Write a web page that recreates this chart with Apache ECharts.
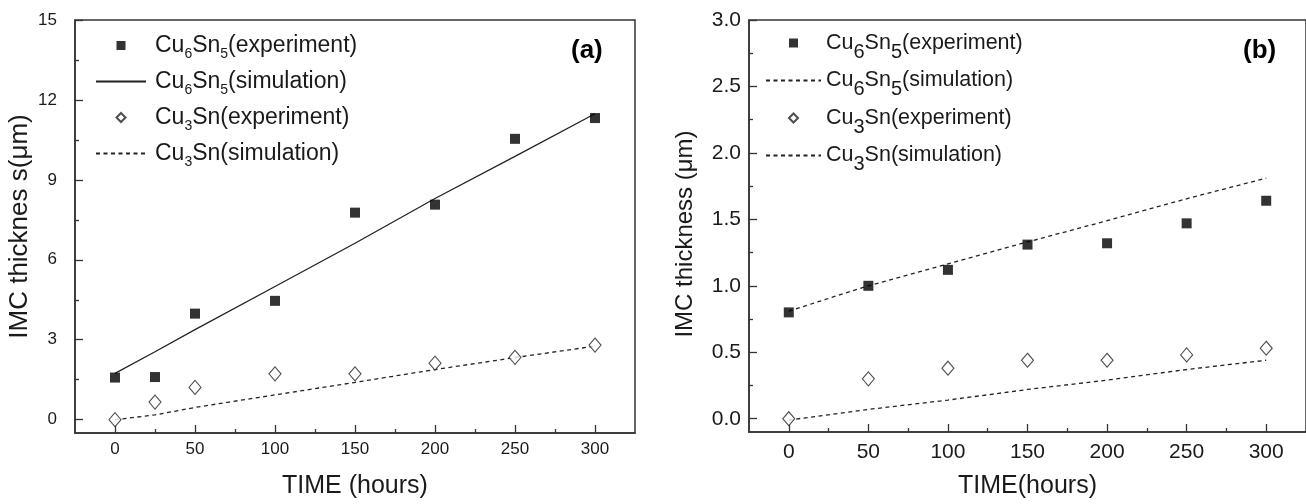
<!DOCTYPE html>
<html><head><meta charset="utf-8">
<script src="https://cdn.jsdelivr.net/npm/echarts@6/dist/echarts.min.js"></script>
<style>html,body{margin:0;padding:0;background:#fff}#c{width:1306px;height:504px}</style>
</head><body><div id="c"></div>
<script>
// ---------- data: panel (a) ----------
const timesA = [0, 25, 50, 100, 150, 200, 250, 300];
const cu6sn5ExpA = [1.58, 1.6, 3.98, 4.46, 7.77, 8.07, 10.54, 11.32];
const cu6sn5SimA = [1.74, 2.55, 3.38, 5.0, 6.62, 8.3, 9.88, 11.48];
const cu3snExpA = [0, 0.66, 1.21, 1.72, 1.72, 2.12, 2.34, 2.8];
const cu3snSimA = [0.0, 0.18, 0.46, 0.93, 1.4, 1.88, 2.33, 2.76];
// ---------- data: panel (b) ----------
const timesB = [0, 50, 100, 150, 200, 250, 300];
const cu6sn5ExpB = [0.80, 1.00, 1.12, 1.31, 1.32, 1.47, 1.64];
const cu6sn5SimB = [0.81, 1.0, 1.165, 1.33, 1.49, 1.655, 1.81];
const cu3snExpB = [0, 0.30, 0.38, 0.44, 0.44, 0.48, 0.53];
const cu3snSimB = [-0.01, 0.07, 0.14, 0.22, 0.29, 0.37, 0.44];
// ---------- ticks ----------
const xTicks = [0, 50, 100, 150, 200, 250, 300];
const xMinorTicks = [25, 75, 125, 175, 225, 275];
const yTicksA = [0, 3, 6, 9, 12, 15];
const yMinorTicksA = [1.5, 4.5, 7.5, 10.5, 13.5];
const yTicksB = [0, 0.5, 1, 1.5, 2, 2.5, 3];
const yMinorTicksB = [0.25, 0.75, 1.25, 1.75, 2.25, 2.75];
// ---------- labels ----------
const seriesNames = ['Cu6Sn5(experiment)', 'Cu6Sn5(simulation)', 'Cu3Sn(experiment)', 'Cu3Sn(simulation)'];
const xTitleA = 'TIME (hours)';
const yTitleA = 'IMC thicknes s(\u03bcm)';
const xTitleB = 'TIME(hours)';
const yTitleB = 'IMC thickness (\u03bcm)';

const FONT = '"Liberation Sans", Arial, sans-serif';
const INK = '#1a1a1a';
const pairs = (xs, ys) => xs.map((x, i) => [x, ys[i]]);
const tagA = n => n + ' [a]';
const tagB = n => n + ' [b]';
function richName(name) {
  const base = name.replace(/ \[[ab]\]$/, '');
  const parts = base.split(/(\d)/).filter(s => s.length);
  return parts.map(p => /^\d$/.test(p) ? '{s|' + p + '}' : '{n|' + p + '}').join('');
}
const SQUARE_ICON = 'path://M0,0L10,0L10,10L0,10Z';
const DIAMOND_ICON = 'path://M5,0L10,5L5,10L0,5Z';
function legendData(tag) {
  return [
    { name: tag(seriesNames[0]), icon: SQUARE_ICON },
    { name: tag(seriesNames[1]), itemStyle: { opacity: 0 } },
    { name: tag(seriesNames[2]), icon: DIAMOND_ICON },
    { name: tag(seriesNames[3]), itemStyle: { opacity: 0 } }
  ];
}

function axesFor(gi, xmin, xmax, ymin, ymax, yTicks, yMinor, opts) {
  const common = {
    gridIndex: gi, type: 'value', splitLine: { show: false },
    axisLine: { onZero: false, lineStyle: { color: '#333', width: 1.5 } }
  };
  const xs = [
    Object.assign({}, common, {
      min: xmin, max: xmax, position: 'bottom',
      axisTick: { inside: true, length: 8, customValues: xTicks, lineStyle: { color: '#333', width: 1.3 } },
      axisLabel: { customValues: xTicks, margin: opts.xLabelMargin, fontSize: opts.tickFont, color: INK, fontFamily: FONT },
      name: opts.xTitle, nameLocation: 'middle', nameGap: opts.xGap,
      nameTextStyle: { fontSize: opts.titleFont, color: INK, fontFamily: FONT }
    }),
    Object.assign({}, common, {
      min: xmin, max: xmax, position: 'bottom',
      axisLine: { show: false, onZero: false },
      axisTick: { inside: true, length: 4, customValues: xMinorTicks, lineStyle: { color: '#333', width: 1.3 } },
      axisLabel: { show: false }
    })
  ];
  const ys = [
    Object.assign({}, common, {
      min: ymin, max: ymax, position: 'left',
      axisTick: { inside: true, length: 8, customValues: yTicks, lineStyle: { color: '#333', width: 1.3 } },
      axisLabel: { customValues: yTicks, margin: opts.yLabelMargin, fontSize: opts.tickFont, color: INK, fontFamily: FONT,
        formatter: opts.yFmt },
      name: opts.yTitle, nameLocation: 'middle', nameGap: opts.yGap, nameRotate: 90,
      nameTextStyle: { fontSize: opts.yTitleFont, color: INK, fontFamily: FONT, padding: opts.yTitlePad }
    }),
    Object.assign({}, common, {
      min: ymin, max: ymax, position: 'left',
      axisLine: { show: false, onZero: false },
      axisTick: { inside: true, length: 4, customValues: yMinor, lineStyle: { color: '#333', width: 1.3 } },
      axisLabel: { show: false }
    })
  ];
  return { xs, ys };
}

const axA = axesFor(0, -25, 325, -0.5, 15, yTicksA, yMinorTicksA, {
  tickFont: 17, titleFont: 25, yTitleFont: 26, xTitle: xTitleA, yTitle: yTitleA, xGap: 41, yGap: 42,
  xLabelMargin: 8, yLabelMargin: 18, yFmt: v => String(v), yTitlePad: [0, 0, 0, 0]
});
const axB = axesFor(1, -25, 325, -0.1, 3.0, yTicksB, yMinorTicksB, {
  tickFont: 21, titleFont: 25, yTitleFont: 24, xTitle: xTitleB, yTitle: yTitleB, xGap: 42, yGap: 52,
  xLabelMargin: 10, yLabelMargin: 8, yFmt: v => v.toFixed(1), yTitlePad: [0, 16, 0, 0]
});

const squareStyle = { color: '#000' };
const diamondStyle = { color: '#fff', borderColor: '#222', borderWidth: 1.1 };
const dash = [4, 3.5];

const series = [
  { name: tagA(seriesNames[0]), type: 'scatter', xAxisIndex: 0, yAxisIndex: 0, symbol: 'rect', symbolSize: 10,
    itemStyle: squareStyle, data: pairs(timesA, cu6sn5ExpA), z: 5 },
  { name: tagA(seriesNames[1]), type: 'line', xAxisIndex: 0, yAxisIndex: 0, symbol: 'none',
    lineStyle: { color: '#222', width: 1.3 }, itemStyle: { color: '#222' }, data: pairs(timesA, cu6sn5SimA) },
  { name: tagA(seriesNames[2]), type: 'scatter', xAxisIndex: 0, yAxisIndex: 0, symbol: 'diamond', symbolSize: [12, 14],
    itemStyle: diamondStyle, data: pairs(timesA, cu3snExpA), z: 5 },
  { name: tagA(seriesNames[3]), type: 'line', xAxisIndex: 0, yAxisIndex: 0, symbol: 'none',
    lineStyle: { color: '#222', width: 1.3, type: dash }, itemStyle: { color: '#222' }, data: pairs(timesA, cu3snSimA) },

  { name: tagB(seriesNames[0]), type: 'scatter', xAxisIndex: 2, yAxisIndex: 2, symbol: 'rect', symbolSize: 10,
    itemStyle: squareStyle, data: pairs(timesB, cu6sn5ExpB), z: 5 },
  { name: tagB(seriesNames[1]), type: 'line', xAxisIndex: 2, yAxisIndex: 2, symbol: 'none',
    lineStyle: { color: '#222', width: 1.3, type: dash }, itemStyle: { color: '#222' }, data: pairs(timesB, cu6sn5SimB) },
  { name: tagB(seriesNames[2]), type: 'scatter', xAxisIndex: 2, yAxisIndex: 2, symbol: 'diamond', symbolSize: [12, 14],
    itemStyle: diamondStyle, data: pairs(timesB, cu3snExpB), z: 5 },
  { name: tagB(seriesNames[3]), type: 'line', xAxisIndex: 2, yAxisIndex: 2, symbol: 'none',
    lineStyle: { color: '#222', width: 1.3, type: dash }, itemStyle: { color: '#222' }, data: pairs(timesB, cu3snSimB) }
];

const chart = echarts.init(document.getElementById('c'), null, { renderer: 'canvas' });
chart.setOption({
  animation: false,
  backgroundColor: '#fff',
  textStyle: { fontFamily: FONT },
  grid: [
    { left: 75, top: 20, width: 560, height: 415, show: true, borderColor: '#333', borderWidth: 1.5, backgroundColor: 'transparent' },
    { left: 749, top: 20, width: 561, height: 415, show: true, borderColor: '#333', borderWidth: 1.5, backgroundColor: 'transparent' }
  ],
  xAxis: axA.xs.concat(axB.xs),
  yAxis: axA.ys.concat(axB.ys),
  legend: [
    { data: legendData(tagA), orient: 'vertical', left: 90, top: 29, itemWidth: 50, itemHeight: 9, itemGap: 8.5,
      selectedMode: false, formatter: richName,
      textStyle: { padding: [0, 0, 0, 4], rich: {
        n: { fontSize: 23, lineHeight: 26, color: INK, fontFamily: FONT },
        s: { fontSize: 14, lineHeight: 26, height: 8, verticalAlign: 'bottom', color: INK, fontFamily: FONT } } } },
    { data: legendData(tagB), orient: 'vertical', left: 760, top: 27, itemWidth: 55, itemHeight: 9, itemGap: 7.5,
      selectedMode: false, formatter: richName,
      textStyle: { rich: {
        n: { fontSize: 21.5, lineHeight: 27, color: INK, fontFamily: FONT },
        s: { fontSize: 20, lineHeight: 27, height: 9, verticalAlign: 'bottom', color: INK, fontFamily: FONT } } } }
  ],
  graphic: [
    { type: 'text', left: 571, top: 38, style: { text: '(a)', font: 'bold 26px ' + FONT, fill: '#000' } },
    { type: 'text', left: 1243, top: 38, style: { text: '(b)', font: 'bold 26px ' + FONT, fill: '#000' } }
  ],
  series
});
</script></body></html>
